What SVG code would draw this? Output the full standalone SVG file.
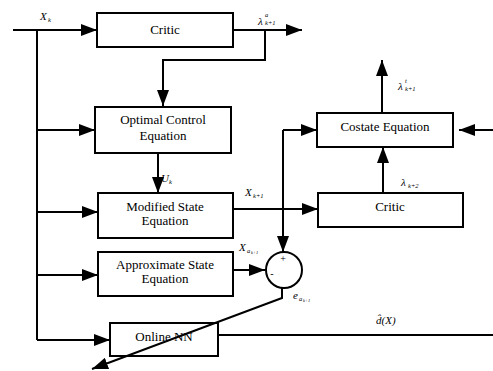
<svg xmlns="http://www.w3.org/2000/svg" width="493" height="371" viewBox="0 0 493 371" font-family="'Liberation Serif', 'Times New Roman', serif">
<style>
.box{fill:#fff;stroke:#000;stroke-width:2}
.ln{fill:none;stroke:#000;stroke-width:2}
.arr{marker-end:url(#ah)}
text{fill:#000}
.t{font-size:13px;text-anchor:middle}
.l{font-size:11px;font-style:italic}
.s{font-size:6.5px}
.xs{font-size:4.5px}
</style>
<defs>
<marker id="ah" markerUnits="userSpaceOnUse" markerWidth="16" markerHeight="12" refX="16" refY="6" orient="auto">
<path d="M0,0 L16,6 L0,12 Z" fill="#000"/>
</marker>
</defs>
<rect width="493" height="371" fill="#fff"/>
<g id="critic1"><rect class="box" x="97" y="13" width="136" height="34"/><text class="t" x="165" y="34">Critic</text></g>
<g id="optimal-control"><rect class="box" x="95" y="107" width="136" height="46"/><text class="t" x="163" y="124">Optimal Control</text><text class="t" x="163" y="140">Equation</text></g>
<g id="modified-state"><rect class="box" x="98" y="193" width="135" height="45"/><text class="t" x="165" y="211">Modified State</text><text class="t" x="165" y="225">Equation</text></g>
<g id="approx-state"><rect class="box" x="98" y="252" width="135" height="44"/><text class="t" x="165" y="269">Approximate State</text><text class="t" x="165" y="283">Equation</text></g>
<g id="online-nn"><rect class="box" x="110" y="323" width="108" height="33"/><text class="t" x="164" y="341">Online NN</text></g>
<g id="costate"><rect class="box" x="317" y="113" width="136" height="34"/><text class="t" x="385" y="131">Costate Equation</text></g>
<g id="critic2"><rect class="box" x="318" y="193" width="145" height="34"/><text class="t" x="390" y="211">Critic</text></g>
<g id="sum"><circle cx="284" cy="270" r="18" fill="#fff" stroke="#000" stroke-width="2"/><text class="t" x="283" y="262" style="font-size:10px">+</text><text class="t" x="272" y="277" style="font-size:10px">-</text></g>
<g id="connectors">
<path class="ln arr" d="M13,30 H97"/>
<path class="ln" d="M37,30 V340"/>
<path class="ln arr" d="M37,130 H95"/>
<path class="ln arr" d="M37,212 H98"/>
<path class="ln arr" d="M37,275 H98"/>
<path class="ln arr" d="M37,340 H110"/>
<path class="ln arr" d="M233,30 H302"/>
<path class="ln arr" d="M265,30 V60 H163 V106"/>
<path class="ln arr" d="M158,153 V193"/>
<path class="ln arr" d="M233,209 H318"/>
<path class="ln arr" d="M283,130 H317"/>
<path class="ln arr" d="M283,130 V252"/>
<path class="ln arr" d="M233,270 H265"/>
<path class="ln arr" d="M382,113 V60"/>
<path class="ln arr" d="M383,193 V147"/>
<path class="ln arr" d="M493,130 H459"/>
<path class="ln" d="M218,335 H493"/>
<path class="ln arr" d="M282,288 V298 L92,369"/>
</g>
<g id="labels">
<text class="l" x="40" y="20">X</text><text class="l s" x="48" y="22">k</text>
<text class="l" x="258" y="25">λ</text><text class="l s" x="265" y="17">a</text><text class="l s" x="265" y="25">k+1</text>
<text class="l" x="398" y="90">λ</text><text class="l s" x="405" y="83">t</text><text class="l s" x="405" y="91">k+1</text>
<text class="l" x="401" y="186">λ</text><text class="l s" x="408" y="188">k+2</text>
<text class="l" x="161" y="182">U</text><text class="l s" x="169" y="184">k</text>
<text class="l" x="245" y="196">X</text><text class="l s" x="253" y="198">k+1</text>
<text class="l" x="239" y="251">X</text><text class="l s" x="247" y="253">a</text><text class="l xs" x="251" y="254">k+1</text>
<text class="l" x="293" y="299">e</text><text class="l s" x="299" y="301">a</text><text class="l xs" x="303" y="302">k+1</text>
<text class="l" x="376" y="324">d̂(X)</text>
</g>
</svg>
